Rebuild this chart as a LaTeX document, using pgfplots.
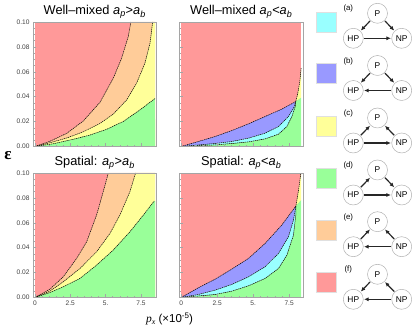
\documentclass[border=0pt]{standalone}
\usepackage{pgfplots}
\pgfplotsset{compat=1.18}
\usepackage{fontspec}
\setmainfont{Liberation Sans}
\newfontfamily\serifont{Liberation Serif}
\usetikzlibrary{arrows.meta,positioning}
\definecolor{cred}{RGB}{255,153,153}
\definecolor{corange}{RGB}{255,204,153}
\definecolor{cyellow}{RGB}{255,255,153}
\definecolor{cgreen}{RGB}{153,255,153}
\definecolor{cblue}{RGB}{153,153,255}
\definecolor{ccyan}{RGB}{153,255,255}
\definecolor{fr}{RGB}{165,165,165}
\pgfplotsset{
  panel/.style={
    scale only axis, width=123.5pt, height=124.5pt,
    xmin=-0.14, xmax=8.6, ymin=0, ymax=0.1,
    axis line style={fr,line width=0.9pt},
    tick style={fr,line width=0.4pt},
    major tick length=3pt, minor tick length=1.5pt,
    tick align=inside,
    xtick={0,2.5,5,7.5}, ytick={0,0.02,0.04,0.06,0.08,0.1},
    minor y tick num=3, minor x tick num=4,
    xticklabels={}, yticklabels={},
    xtick pos=bottom, ytick pos=left,
    ticklabel style={font=\fontsize{6.6}{7}\selectfont, text=black!75},
    title style={font=\fontsize{12.8}{13}\selectfont, yshift=-6pt},
    axis on top,
    clip=true,
    /pgf/number format/assume math mode=true,
  },
  rightpanel/.style={xmin=-0.11, xmax=8.46},
  ylab/.style={yticklabels={0.00,0.02,0.04,0.06,0.08,0.10}},
  xlab/.style={xticklabels={0,2.5,5.,7.5}},
  bd/.style={black,line width=0.5pt,dash pattern=on 1.3pt off 0.7pt},
  reg/.style={draw=none,fill=#1},
}
\begin{document}
\begin{tikzpicture}
\path[use as bounding box] (0pt,0pt) rectangle (415pt,331pt);
% top left
\begin{axis}[panel,ylab,at={(33pt,184.5pt)},anchor=south west,title={Well--mixed \textit{a\textsubscript{p}}>\textit{a\textsubscript{b}}}]
\addplot[reg=cred] coordinates {(0,0)(8.5,0)(8.5,0.1)(0,0.1)} --cycle;
\addplot[reg=corange] coordinates {(0,0)(1.06,0.0042)(2.24,0.0105)(3.42,0.0205)(4.6,0.0355)(5.54,0.0548)(6.13,0.0709)(6.6,0.0882)(6.79,0.1)(8.5,0.1)(8.5,0)} --cycle;
\addplot[reg=cyellow] coordinates {(0,0)(1.06,0.003)(2.24,0.0068)(3.42,0.0118)(4.6,0.0185)(5.54,0.026)(6.49,0.0374)(7.19,0.0508)(7.78,0.0668)(8.14,0.0829)(8.33,0.1)(8.5,0.1)(8.5,0)} --cycle;
\addplot[reg=cgreen] coordinates {(0,0)(1.3,0.0022)(2.71,0.0058)(3.89,0.0092)(5.07,0.0138)(6.25,0.0201)(7.43,0.0294)(8.49,0.0385)(8.5,0)} --cycle;
\addplot[bd] coordinates {(0,0)(1.06,0.0042)(2.24,0.0105)(3.42,0.0205)(4.6,0.0355)(5.54,0.0548)(6.13,0.0709)(6.6,0.0882)(6.79,0.1)};
\addplot[bd] coordinates {(0,0)(1.06,0.003)(2.24,0.0068)(3.42,0.0118)(4.6,0.0185)(5.54,0.026)(6.49,0.0374)(7.19,0.0508)(7.78,0.0668)(8.14,0.0829)(8.33,0.1)};
\addplot[bd] coordinates {(0,0)(1.3,0.0022)(2.71,0.0058)(3.89,0.0092)(5.07,0.0138)(6.25,0.0201)(7.43,0.0294)(8.49,0.0385)};
\end{axis}
% top right
\begin{axis}[panel,rightpanel,at={(179.5pt,184.5pt)},anchor=south west,title={Well--mixed \textit{a\textsubscript{p}}<\textit{a\textsubscript{b}}}]
\addplot[reg=cred] coordinates {(0,0)(8.33,0)(8.33,0.1)(0,0.1)} --cycle;
\addplot[reg=cyellow] coordinates {(7.96,0.0361)(8.1,0.0428)(8.24,0.0521)(8.33,0.0634)(8.33,0.0392)} --cycle;
\addplot[reg=cblue] coordinates {(0,0)(1.2,0.004)(2.36,0.008)(3.52,0.0128)(4.68,0.0182)(5.83,0.0241)(6.99,0.03)(7.96,0.0361)(7.8,0.0307)(7.45,0.0241)(6.76,0.016)(5.83,0.0107)(4.68,0.0067)(3.52,0.004)(2.36,0.0024)} --cycle;
\addplot[reg=ccyan] coordinates {(0,0)(2.36,0.0024)(3.52,0.004)(4.68,0.0067)(5.83,0.0107)(6.76,0.016)(7.45,0.0241)(7.8,0.0307)(7.96,0.0361)(7.92,0.0321)(7.69,0.0241)(7.34,0.016)(6.76,0.0099)(5.83,0.0061)(4.68,0.0037)(3.52,0.0024)(2.36,0.0013)} --cycle;
\addplot[reg=cgreen] coordinates {(0,0)(2.36,0.0013)(3.52,0.0024)(4.68,0.0037)(5.83,0.0061)(6.76,0.0099)(7.34,0.016)(7.69,0.0241)(7.92,0.0321)(7.96,0.0361)(8.33,0.0392)(8.33,0)} --cycle;
\addplot[bd] coordinates {(0,0)(1.2,0.004)(2.36,0.008)(3.52,0.0128)(4.68,0.0182)(5.83,0.0241)(6.99,0.03)(7.96,0.0361)(8.1,0.0428)(8.24,0.0521)(8.33,0.0634)};
\addplot[bd] coordinates {(0,0)(2.36,0.0024)(3.52,0.004)(4.68,0.0067)(5.83,0.0107)(6.76,0.016)(7.45,0.0241)(7.8,0.0307)(7.96,0.0361)};
\addplot[bd] coordinates {(0,0)(2.36,0.0013)(3.52,0.0024)(4.68,0.0037)(5.83,0.0061)(6.76,0.0099)(7.34,0.016)(7.69,0.0241)(7.92,0.0321)(7.96,0.0361)};
\end{axis}
% bottom left
\begin{axis}[panel,ylab,xlab,at={(33pt,33.5pt)},anchor=south west,title={Spatial: \textit{a\textsubscript{p}}>\textit{a\textsubscript{b}}}]
\addplot[reg=cred] coordinates {(0,0)(8.5,0)(8.5,0.1)(0,0.1)} --cycle;
\addplot[reg=corange] coordinates {(0,0)(1.06,0.0067)(2,0.0166)(2.95,0.0314)(3.66,0.0448)(4.36,0.0662)(4.83,0.085)(5.19,0.1)(8.5,0.1)(8.5,0)} --cycle;
\addplot[reg=cyellow] coordinates {(0,0)(1.06,0.0051)(2,0.0126)(3.18,0.0233)(4.36,0.0367)(5.31,0.0515)(6.01,0.0662)(6.72,0.085)(7.12,0.1)(8.5,0.1)(8.5,0)} --cycle;
\addplot[reg=cgreen] coordinates {(0,0)(1.06,0.004)(2,0.0086)(3.18,0.0153)(4.36,0.026)(5.54,0.0381)(6.72,0.0528)(7.67,0.0662)(8.44,0.0775)(8.5,0.0775)(8.5,0)} --cycle;
\addplot[bd] coordinates {(0,0)(1.06,0.0067)(2,0.0166)(2.95,0.0314)(3.66,0.0448)(4.36,0.0662)(4.83,0.085)(5.19,0.1)};
\addplot[bd] coordinates {(0,0)(1.06,0.0051)(2,0.0126)(3.18,0.0233)(4.36,0.0367)(5.31,0.0515)(6.01,0.0662)(6.72,0.085)(7.12,0.1)};
\addplot[bd] coordinates {(0,0)(1.06,0.004)(2,0.0086)(3.18,0.0153)(4.36,0.026)(5.54,0.0381)(6.72,0.0528)(7.67,0.0662)(8.44,0.0775)};
\end{axis}
% bottom right
\begin{axis}[panel,rightpanel,xlab,at={(179.5pt,33.5pt)},anchor=south west,title={Spatial: \textit{a\textsubscript{p}}<\textit{a\textsubscript{b}}}]
\addplot[reg=cred] coordinates {(0,0)(8.33,0)(8.33,0.1)(0,0.1)} --cycle;
\addplot[reg=cyellow] coordinates {(7.97,0.0735)(8.15,0.0861)(8.31,0.0995)(8.33,0.0995)(8.33,0.0782)} --cycle;
\addplot[reg=cblue] coordinates {(0,0)(1.2,0.0078)(2.36,0.0147)(3.52,0.0228)(4.68,0.0314)(5.83,0.0434)(6.99,0.0582)(7.97,0.0735)(7.8,0.0622)(7.45,0.0488)(6.76,0.0354)(5.83,0.0247)(4.68,0.0166)(3.52,0.0105)(2.36,0.0059)(1.2,0.0024)} --cycle;
\addplot[reg=ccyan] coordinates {(0,0)(1.2,0.0024)(2.36,0.0059)(3.52,0.0105)(4.68,0.0166)(5.83,0.0247)(6.76,0.0354)(7.45,0.0488)(7.8,0.0622)(7.97,0.0735)(7.96,0.0662)(7.8,0.0501)(7.34,0.034)(6.76,0.0233)(5.83,0.0153)(4.68,0.0094)(3.52,0.0051)(2.36,0.0024)} --cycle;
\addplot[reg=cgreen] coordinates {(0,0)(2.36,0.0024)(3.52,0.0051)(4.68,0.0094)(5.83,0.0153)(6.76,0.0233)(7.34,0.034)(7.8,0.0501)(7.96,0.0662)(7.97,0.0735)(8.33,0.0782)(8.33,0)} --cycle;
\addplot[bd] coordinates {(0,0)(1.2,0.0078)(2.36,0.0147)(3.52,0.0228)(4.68,0.0314)(5.83,0.0434)(6.99,0.0582)(7.97,0.0735)(8.15,0.0861)(8.31,0.0995)};
\addplot[bd] coordinates {(0,0)(1.2,0.0024)(2.36,0.0059)(3.52,0.0105)(4.68,0.0166)(5.83,0.0247)(6.76,0.0354)(7.45,0.0488)(7.8,0.0622)(7.97,0.0735)};
\addplot[bd] coordinates {(0,0)(2.36,0.0024)(3.52,0.0051)(4.68,0.0094)(5.83,0.0153)(6.76,0.0233)(7.34,0.034)(7.8,0.0501)(7.96,0.0662)(7.97,0.0735)};
\end{axis}
% axis labels
\begin{scope}[x=1pt,y=1pt]
\node[font=\serifont\bfseries\fontsize{17}{17}\selectfont] at (8,175) {ε};
\node[font=\fontsize{11.5}{12}\selectfont,anchor=base] at (169.5,8) {{\serifont\itshape p\raisebox{-2pt}{\fontsize{8}{8}\selectfont x}} (×10\raisebox{4.5pt}{\fontsize{8}{8}\selectfont -5})};
% legend swatches and motifs
\tikzset{
  nd/.style={circle,draw=black!30,fill=white,line width=0.5pt,minimum size=20pt,inner sep=0pt,font=\fontsize{8.4}{8}\selectfont},
  ar/.style={-{Latex[length=4.5pt,width=4pt]},line width=1.2pt,black!85,shorten >=0.5pt,shorten <=0.5pt},
  sw/.style={draw=black!12,line width=0.4pt,minimum size=20pt,inner sep=0pt},
}
\newcommand{\motif}[5]{% y centre of P, label, arrows
  \node[nd] (P) at (377.5,#1) {P};
  \node[nd] (H) at (353.3,#1-25) {HP};
  \node[nd] (N) at (401.7,#1-25) {NP};
  \node[font=\fontsize{7.8}{8}\selectfont] at (348.3,#1+4.5) {(#2)};
  \draw[ar] #3;
  \draw[ar] #4;
  \draw[ar] #5;
}
\node[sw,fill=ccyan] at (326,309) {};
\node[sw,fill=cblue] at (326,258) {};
\node[sw,fill=cyellow] at (326,205) {};
\node[sw,fill=cgreen] at (326,153) {};
\node[sw,fill=corange] at (326,101) {};
\node[sw,fill=cred] at (326,49) {};
\motif{317.7}{a}{(P)--(H)}{(P)--(N)}{(H)--(N)}
\motif{265.5}{b}{(P)--(H)}{(P)--(N)}{(N)--(H)}
\motif{213}{c}{(H)--(P)}{(N)--(P)}{(H)--(N)}
\motif{161}{d}{(H)--(P)}{(P)--(N)}{(H)--(N)}
\motif{109.3}{e}{(H)--(P)}{(N)--(P)}{(N)--(H)}
\motif{56.7}{f}{(P)--(H)}{(N)--(P)}{(N)--(H)}
\end{scope}
\end{tikzpicture}
\end{document}
